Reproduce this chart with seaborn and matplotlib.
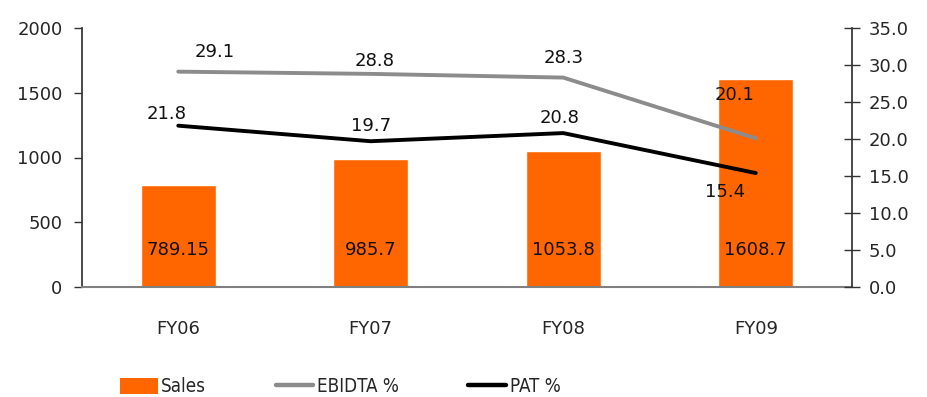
import matplotlib
matplotlib.use("Agg")
import matplotlib.pyplot as plt
from matplotlib.lines import Line2D
from matplotlib.patches import Patch
import seaborn as sns
import pandas as pd

years = ["FY06", "FY07", "FY08", "FY09"]
sales = [789.15, 985.7, 1053.8, 1608.7]
sales_labels = ["789.15", "985.7", "1053.8", "1608.7"]
ebidta = [29.1, 28.8, 28.3, 20.1]
pat = [21.8, 19.7, 20.8, 15.4]
left_ticks = [0, 500, 1000, 1500, 2000]
right_ticks = [0, 5, 10, 15, 20, 25, 30, 35]

sns.set_theme(style="white")
plt.rcParams["font.family"] = ["DejaVu Sans"]

ORANGE = "#FF6600"
GRAY = "#8C8C8C"

fig = plt.figure(figsize=(9.27, 3.97), dpi=100)
ax = fig.add_axes([82 / 927, 110 / 397, 770 / 927, 259 / 397])

df = pd.DataFrame({"year": years, "sales": sales})
sns.barplot(data=df, x="year", y="sales", color=ORANGE, saturation=1,
            width=0.39, ax=ax, zorder=2)
ax.set_xlim(-0.5, 3.5)
ax.set_ylim(0, 2000)
ax.set_yticks(left_ticks)
ax.set_yticklabels([str(t) for t in left_ticks], fontsize=13)
ax.set_xlabel("")
ax.set_ylabel("")
ax.tick_params(axis="x", length=0, pad=24, labelsize=13)
ax.set_xticks([i - 0.5 for i in range(len(years) + 1)], minor=True)
ax.tick_params(axis="x", which="minor", length=6, width=1, color="#333333", direction="out")
ax.tick_params(axis="y", length=6, width=1, color="#333333", direction="out", left=True, pad=8)
for s in ["top", "right"]:
    ax.spines[s].set_visible(False)
ax.spines["left"].set_color("#333333")
ax.spines["bottom"].set_color("#808080")
ax.spines["bottom"].set_linewidth(1.5)

for i, lab in enumerate(sales_labels):
    ax.text(i, 286, lab, ha="center", va="center", fontsize=13, color="#111111", zorder=3)

ax2 = ax.twinx()
line_df = pd.DataFrame({"x": range(len(years)), "ebidta": ebidta, "pat": pat})
sns.lineplot(data=line_df, x="x", y="ebidta", color=GRAY, linewidth=2.8, ax=ax2)
sns.lineplot(data=line_df, x="x", y="pat", color="black", linewidth=2.8, ax=ax2)
ax2.set_xlim(-0.5, 3.5)
ax2.set_ylim(0, 35)
ax2.set_yticks(right_ticks)
ax2.set_yticklabels([f"{t:.1f}" for t in right_ticks], fontsize=13)
ax2.set_ylabel("")
ax2.set_xlabel("")
ax2.tick_params(axis="y", length=12, width=1, color="#333333", direction="inout", right=True, pad=6)
for s in ["top", "left", "bottom"]:
    ax2.spines[s].set_visible(False)
ax2.spines["right"].set_color("#333333")

# value labels on the lines (offsets in category / percent units)
ebidta_off = [(0.19, 2.7), (0.02, 1.75), (0.0, 2.7), (-0.11, 5.9)]
pat_off = [(-0.06, 1.6), (0.0, 2.0), (-0.02, 2.0), (-0.16, -2.6)]
for i, v in enumerate(ebidta):
    dx, dy = ebidta_off[i]
    ax2.text(i + dx, v + dy, f"{v:.1f}", ha="center", va="center", fontsize=13,
             color="#111111", zorder=5)
for i, v in enumerate(pat):
    dx, dy = pat_off[i]
    ax2.text(i + dx, v + dy, f"{v:.1f}", ha="center", va="center", fontsize=13,
             color="#111111", zorder=5)

handles = [Patch(facecolor=ORANGE, edgecolor="none"),
           Line2D([], [], color=GRAY, linewidth=3.2),
           Line2D([], [], color="black", linewidth=3.2)]
fig.legend(handles, ["Sales", "EBIDTA %", "PAT %"], loc="center left", ncol=3,
           bbox_to_anchor=(107 / 927, 10 / 397), frameon=False, borderpad=0.2,
           prop={"family": ["DejaVu Sans"], "stretch": "condensed", "size": 13.5},
           handlelength=2.0, handleheight=0.9, handletextpad=0.2, columnspacing=3.7)

fig.savefig("out.png", dpi=100)
